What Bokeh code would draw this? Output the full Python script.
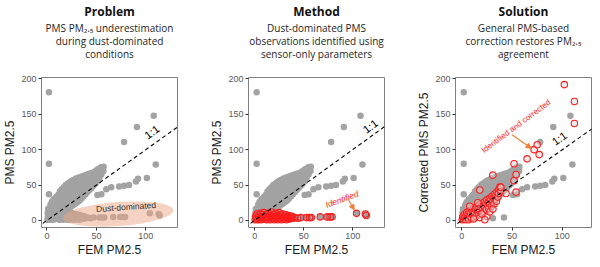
from bokeh.plotting import figure
from bokeh.layouts import row
from bokeh.models import Title, Slope, Arrow, NormalHead, FixedTicker, Range1d
from bokeh.core.properties import value
from bokeh.embed import file_html
from bokeh.resources import INLINE

# ---------------- data (FEM PM2.5, PMS PM2.5) ----------------
# main grey cloud of well-behaved observations
cloud_fem = [
    1, 1.5, 0.8, 1.2,
    3, 3.4, 2.8, 3.2, 3.6,
    5, 5.3, 4.8, 5.2, 5.6, 4.9,
    7, 7.4, 6.8, 7.2, 7.6, 6.9,
    9, 9.3, 8.8, 9.2, 9.6, 8.9, 9.4,
    11, 11.4, 10.8, 11.2, 11.6, 10.9, 11.3,
    13, 13.3, 12.8, 13.2, 13.6, 12.9, 13.4, 13.1,
    15, 15.4, 14.8, 15.2, 15.6, 14.9, 15.3, 15.1,
    17, 17.3, 16.8, 17.2, 17.6, 16.9, 17.4, 17.1,
    19, 19.4, 18.8, 19.2, 19.6, 18.9, 19.3, 19.1,
    21, 21.3, 20.8, 21.2, 21.6, 20.9, 21.4, 21.1,
    23, 23.4, 22.8, 23.2, 23.6, 22.9, 23.3, 23.1,
    25, 25.3, 24.8, 25.2, 25.6, 24.9, 25.4, 25.1,
    27, 27.4, 26.8, 27.2, 27.6, 26.9, 27.3, 27.1,
    29, 29.3, 28.8, 29.2, 29.6, 28.9, 29.4, 29.1,
    31, 31.4, 30.8, 31.2, 31.6, 30.9, 31.3, 31.1,
    33, 33.3, 32.8, 33.2, 33.6, 32.9, 33.4, 33.1,
    35, 35.4, 34.8, 35.2, 35.6, 34.9, 35.3,
    37, 37.3, 36.8, 37.2, 37.6, 36.9, 37.4,
    39, 39.4, 38.8, 39.2, 39.6, 38.9,
    41, 41.3, 40.8, 41.2, 41.6, 40.9,
    43, 43.4, 42.8, 43.2, 43.6, 42.9,
    45, 45.3, 44.8, 45.2, 45.6,
    47, 47.4, 46.8, 47.2, 47.6,
    49, 49.3, 48.8, 49.2,
    51, 51.4, 50.8, 51.2,
    53, 53.3, 52.8,
    55, 55.4, 54.8,
    57, 57.3]
cloud_pms = [
    1, 6, 11, 16,
    2, 7, 12, 17, 22,
    1, 5, 10, 15, 20, 26,
    3, 8, 13, 18, 24, 30,
    4, 9, 14, 19, 24, 29, 33,
    6, 11, 16, 21, 26, 31, 36,
    8, 13, 18, 23, 28, 33, 38, 41,
    10, 15, 20, 25, 30, 35, 40, 44,
    12, 17, 22, 27, 32, 37, 42, 47,
    14, 19, 24, 29, 34, 39, 44, 50,
    16, 21, 26, 31, 36, 41, 46, 52,
    18, 23, 28, 33, 38, 43, 48, 54,
    20, 25, 30, 35, 40, 45, 50, 56,
    22, 27, 32, 37, 42, 47, 52, 57,
    24, 29, 34, 39, 44, 49, 54, 59,
    26, 31, 36, 41, 46, 51, 56, 60,
    28, 33, 38, 43, 48, 53, 58, 61,
    31, 36, 41, 46, 51, 56, 62,
    34, 39, 44, 49, 54, 59, 63,
    37, 42, 47, 52, 57, 64,
    40, 45, 50, 55, 60, 65,
    43, 48, 53, 58, 63, 66,
    46, 51, 56, 61, 67,
    49, 54, 59, 64, 68,
    52, 57, 62, 70,
    55, 60, 66, 72,
    60, 66, 73,
    65, 70, 75,
    70, 76]

# scattered grey observations away from the cloud
outlier_fem = [2, 2, 2, 3, 108, 91, 78, 110, 101, 92, 90, 83, 78, 73, 65, 60, 55, 51]
outlier_pms = [181, 80, 37, 18, 148, 132, 111, 79, 60, 59, 55, 50, 49, 48, 47, 44, 37, 36]

# dust-dominated observations (PMS under-reads)
dust_fem = [0.5, 1, 2, 2.5, 3.5, 4, 5, 5.5, 6.5, 7, 8, 8.5, 9.5, 10, 11, 11.5, 12.5, 13, 14,
            14.5, 15.5, 16, 17, 17.5, 18.5, 19, 20, 20.5, 21.5, 22, 23, 23.5, 24.5, 25, 26,
            26.5, 27.5, 28, 29, 29.5, 30.5, 31, 32, 32.5, 33.5, 34, 35, 35.5, 36.5, 37, 38,
            39, 41, 44, 47, 53, 56, 58, 67, 74, 77, 79, 104, 113, 114]
dust_pms = [1, 6, 3, 9, 1, 6, 3, 10, 1, 5, 8, 2, 11, 5, 2, 8, 1, 5, 10,
            3, 7, 1, 5, 12, 3, 8, 1, 5, 10, 3, 7, 1, 5, 11, 3,
            8, 1, 5, 9, 2, 6, 3, 8, 1, 5, 3, 7, 2, 5, 3, 6,
            3, 4, 3, 4, 4, 4, 4, 5, 5, 5, 5, 10, 9, 7]

# panel 3: grey points left after the general correction
rest_fem = [31, 42, 2]
rest_pms = [3, 4, 10]

# panel 3: corrected dust-dominated observations
corr_fem = [0.5, 1, 2, 2.5, 3, 4, 4.5, 5, 6, 6.5, 7, 7.5, 8, 9, 9.5, 10, 11, 11.5, 12, 12.5,
            13, 14, 14.5, 15, 16, 16.5, 17, 17.5, 18, 19, 19.5, 20, 21, 21.5, 22, 22.5, 23,
            24, 24.5, 25, 26, 26.5, 27, 27.5, 28, 29, 29.5, 30, 31, 31.5, 32, 32.5, 33, 34,
            34.5, 35, 36, 36.5, 37, 38, 39,
            12, 18, 25, 20, 28, 31, 23, 8, 16, 18, 44, 54, 39, 52, 54, 31, 52, 65, 77,
            72, 75, 112, 112, 102]
corr_pms = [1, 5, 2, 8, 4, 1, 7, 11, 4, 9, 1, 13, 6, 10, 3, 15, 8, 13, 4, 17,
            10, 15, 6, 19, 12, 17, 8, 22, 14, 19, 10, 24, 16, 21, 12, 26, 19,
            24, 15, 29, 21, 26, 17, 31, 24, 29, 20, 34, 27, 32, 23, 37, 30, 35,
            27, 40, 33, 38, 44, 47, 41,
            2, 4, 6, 9, 12, 16, 1, 20, 25, 43, 38, 40, 47, 56, 65, 64, 80, 87, 93,
            100, 107, 137, 168, 192]

X_TICKS = [0, 50, 100]
Y_TICKS = [0, 50, 100, 150, 200]

HEADS = ["Problem", "Method", "Solution"]
SUBTITLES = [
    ["PMS PM\u2082.\u2085 underestimation", "during dust-dominated", "conditions"],
    ["Dust-dominated PMS", "observations identified using", "sensor-only parameters"],
    ["General PMS-based", "correction restores PM\u2082.\u2085", "agreement"],
]
Y_LABELS = ["PMS PM2.5", "PMS PM2.5", "Corrected PMS PM2.5"]
X_LABEL = "FEM PM2.5"

GREY = "#a3a3a3"
RED = "#ff1a1a"
ORANGE = "#ee7d31"
TITLE_FONT = "Open Sans"
AXIS_FONT = "Liberation Sans"


def make_panel(idx, xr, left, right):
    p = figure(frame_width=136, frame_height=150,
               x_range=Range1d(*xr), y_range=Range1d(-10, 202),
               output_backend="svg", toolbar_location=None,
               min_border_left=left, min_border_right=right,
               min_border_top=0, min_border_bottom=0,
               background_fill_color="white", border_fill_color="white")
    # titles are stacked outward from the plot: add the lowest one first
    p.add_layout(Title(text=" ", text_font_size="10px", standoff=5), "above")
    for line in reversed(SUBTITLES[idx]):
        p.add_layout(Title(text=line, align="center", text_font=TITLE_FONT,
                           text_font_size="10px", text_font_style="normal",
                           text_color="#262626", standoff=-3.2), "above")
    p.add_layout(Title(text=HEADS[idx], align="center", text_font=TITLE_FONT,
                       text_font_size="12px", text_font_style="bold", text_color="#111111",
                       standoff=1), "above")

    p.xgrid.visible = False
    p.ygrid.visible = False
    p.outline_line_color = "#808080"
    p.outline_line_width = 1
    p.xaxis.ticker = FixedTicker(ticks=X_TICKS)
    p.yaxis.ticker = FixedTicker(ticks=Y_TICKS)
    p.xaxis.axis_label = X_LABEL
    p.yaxis.axis_label = Y_LABELS[idx]
    for ax in (p.xaxis[0], p.yaxis[0]):
        ax.axis_line_color = None
        ax.major_tick_line_color = "#333333"
        ax.major_tick_out = 3
        ax.major_tick_in = 0
        ax.minor_tick_line_color = None
        ax.major_label_text_font = AXIS_FONT
        ax.major_label_text_font_size = "9px"
        ax.major_label_text_color = "#595959"
        ax.axis_label_text_font = AXIS_FONT
        ax.axis_label_text_font_size = "12px"
        ax.axis_label_text_font_style = "normal"
        ax.axis_label_text_color = "#1a1a1a"
        ax.axis_label_standoff = 1
        ax.major_label_standoff = 2
    return p


def one_to_one(p, x, y, ang):
    p.add_layout(Slope(gradient=1, y_intercept=0, line_color="black", line_width=1.1,
                       line_dash="4 3"))
    p.text(x=[x], y=[y], text=["1:1"], angle=ang, text_align="center", text_baseline="middle",
           text_font=value(AXIS_FONT), text_font_size="11px", text_color="black")


# ---------- Panel 1 ----------
p1 = make_panel(0, (-5.5, 132), 34, 30)
p1.scatter(cloud_fem + outlier_fem + dust_fem, cloud_pms + outlier_pms + dust_pms,
           size=6.5, color=GREY, line_color=None)
p1.ellipse(x=[72], y=[9], width=112, height=34, angle=0.07,
           fill_color="#eba584", fill_alpha=0.5, line_color=None)
p1.text(x=[80], y=[19], text=["Dust-dominated"], angle=0.07, text_align="center",
        text_baseline="middle", text_font=value(AXIS_FONT), text_font_size="8.5px",
        text_color="#333333")
one_to_one(p1, 106, 125, 0.64)

# ---------- Panel 2 ----------
p2 = make_panel(1, (-6.3, 132.5), 40, 30)
p2.scatter(cloud_fem + outlier_fem + dust_fem, cloud_pms + outlier_pms + dust_pms,
           size=6.5, color=GREY, line_color=None)
p2.scatter(dust_fem, dust_pms, size=6.5, fill_color=None, line_color=RED, line_width=1.1)
one_to_one(p2, 118, 133, 0.64)
p2.text(x=[89], y=[30], text=["Identified"], angle=0.35, text_align="center",
        text_baseline="middle", text_font=value(AXIS_FONT), text_font_size="8.5px",
        text_font_style="italic", text_color=RED)
p2.add_layout(Arrow(x_start=95, y_start=31, x_end=101.5, y_end=15, line_color=ORANGE,
                    line_width=1.1, end=NormalHead(size=5, fill_color=ORANGE, line_color=ORANGE)))

# ---------- Panel 3 ----------
p3 = make_panel(2, (-6.2, 129), 40, 2)
p3.scatter(cloud_fem + outlier_fem + rest_fem, cloud_pms + outlier_pms + rest_pms,
           size=6.5, color=GREY, line_color=None)
p3.scatter(corr_fem, corr_pms, size=6.5, fill_color="#d9d9d9", fill_alpha=0.5,
           line_color=RED, line_width=1.1)
one_to_one(p3, 97, 116, 0.63)
p3.text(x=[54], y=[133], text=["Identified and corrected"], angle=0.64, text_align="center",
        text_baseline="middle", text_font=value(AXIS_FONT), text_font_size="8px",
        text_color=RED)
p3.add_layout(Arrow(x_start=50, y_start=121, x_end=69, y_end=102, line_color=ORANGE,
                    line_width=1.1, end=NormalHead(size=5, fill_color=ORANGE, line_color=ORANGE)))

layout = row(p1, p2, p3)
open("out.html", "w").write(file_html(layout, INLINE))
